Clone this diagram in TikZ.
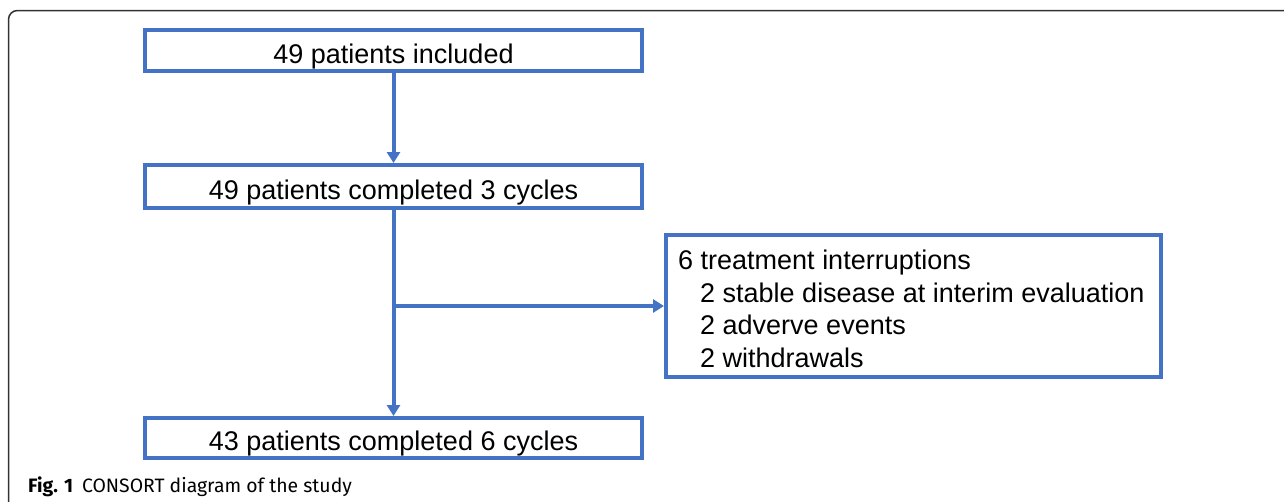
\documentclass[tikz,border=0pt]{standalone}
\usepackage{fontspec}
\setmainfont{Liberation Sans}
\newfontfamily\capfont{Fira Sans}
\usetikzlibrary{arrows.meta}
\definecolor{boxblue}{HTML}{4472C4}
\begin{document}
\begin{tikzpicture}[x=1pt,y=-1pt,
  boxfont/.style={font=\fontsize{27}{32.5}\selectfont},
  flowbox/.style={draw=boxblue,line width=4pt,inner sep=0pt,minimum width=497pt,
    boxfont,text height=25.3pt,text depth=0pt},
  sidebox/.style={draw=boxblue,line width=4pt,inner sep=0pt,
    minimum width=495pt,minimum height=142pt},
  sidetext/.style={inner sep=0pt,align=left,boxfont,anchor=west},
  flowline/.style={draw=boxblue,line width=4pt},
  flowarrow/.style={flowline,-{Triangle[length=11pt,width=13pt]}},
  frameline/.style={draw=black!80,line width=1.5pt,rounded corners=9pt}]
\useasboundingbox (0,0) rectangle (1284,501);
\draw[frameline] (1290,10.5) -- (8.5,10.5) -- (8.5,510);
\node[flowbox,minimum height=41pt] (inc) at (393.5,50.5) {49 patients included};
\node[flowbox,minimum height=43pt] (c3) at (393.5,186.5) {49 patients completed 3 cycles};
\node[flowbox,minimum height=40pt] (c6) at (393.5,438) {43 patients completed 6 cycles};
\node[sidebox] (int) at (913.5,306) {};
\node[sidetext] (inttext) at (678,309) {6 treatment interruptions\\
\hspace*{22pt}2 stable disease at interim evaluation\\
\hspace*{22pt}2 adverve events\\
\hspace*{22pt}2 withdrawals};
\coordinate (br) at (c3.south |- int.west);
\draw[flowarrow] (inc.south) -- (c3.north);
\draw[flowarrow] (c3.south) -- (c6.north);
\draw[flowarrow] (br) -- (int.west);
\node[anchor=base west,inner sep=0pt,font=\capfont\fontsize{19.4}{22}\selectfont] (cap) at (28,492)
  {\textbf{Fig. 1}\hspace{9pt}CONSORT diagram of the study};
\end{tikzpicture}
\end{document}
